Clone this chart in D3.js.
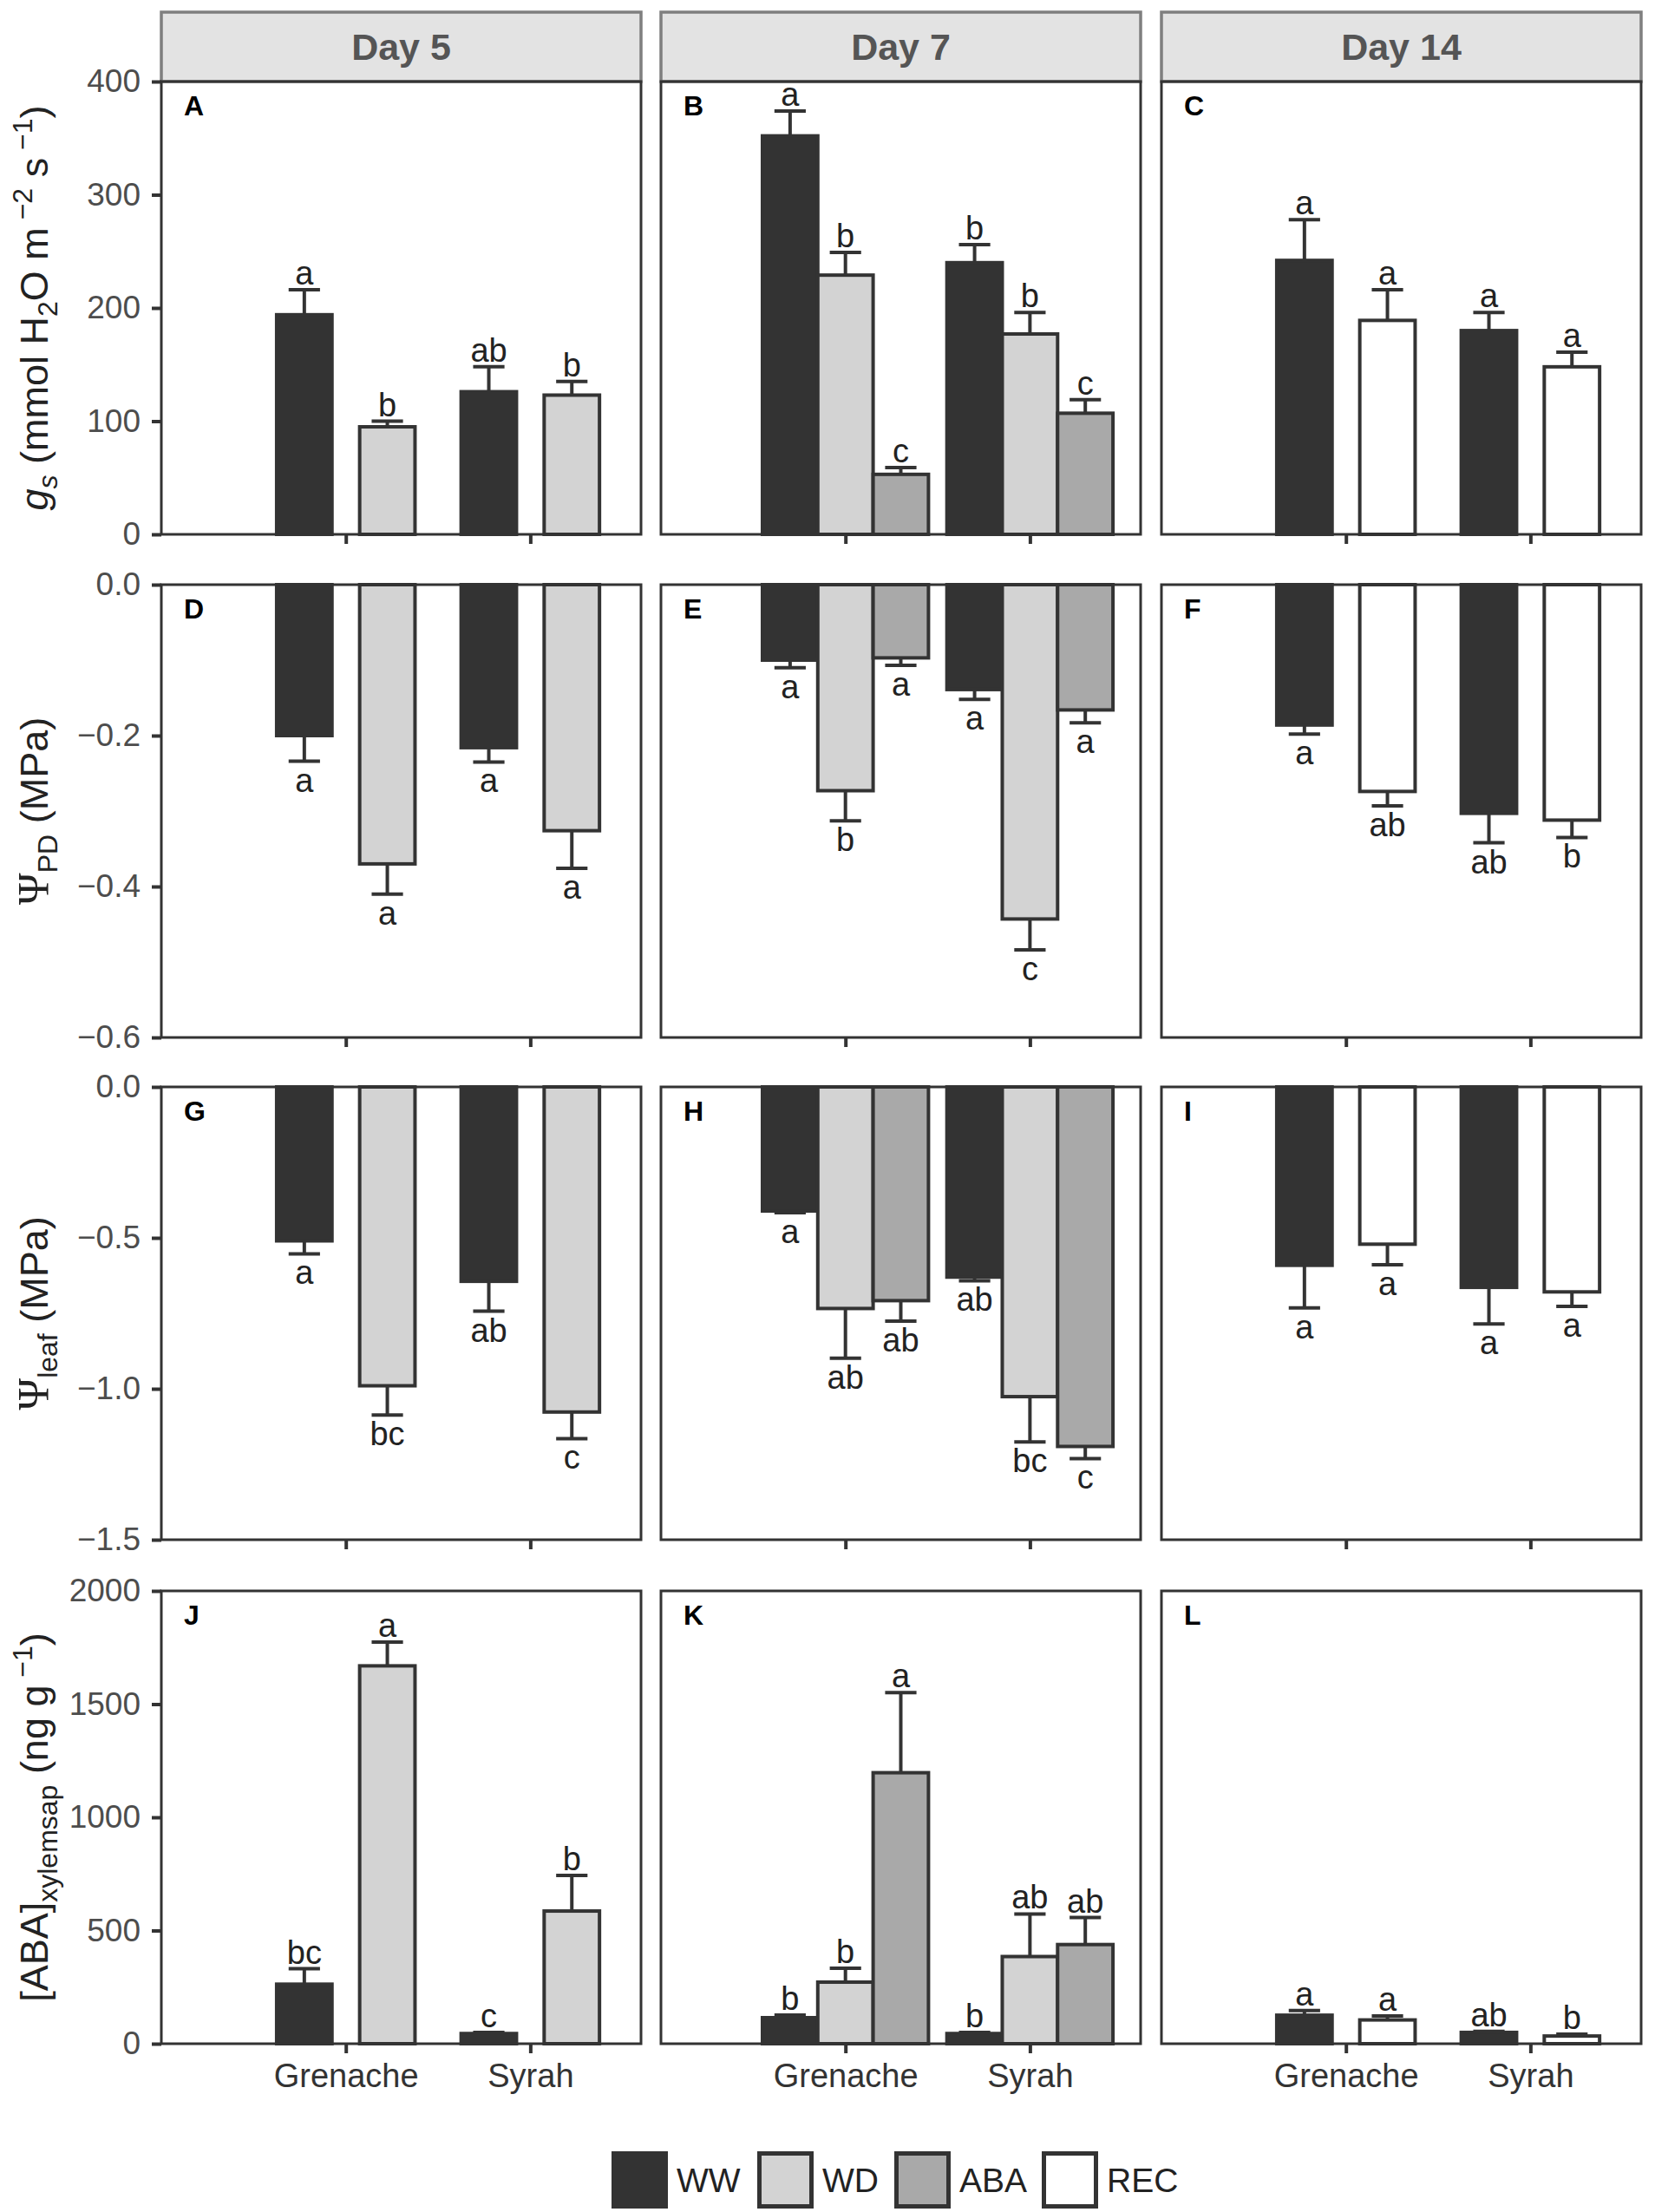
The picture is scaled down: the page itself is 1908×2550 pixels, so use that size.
<!DOCTYPE html>
<html><head><meta charset="utf-8">
<script src="https://cdn.jsdelivr.net/npm/d3@7"></script>
<style>body{margin:0;background:#fff} svg{display:block}</style>
</head><body>
<script>
// ---------- DATA ----------
const days = ["Day 5", "Day 7", "Day 14"];
const cultivars = ["Grenache", "Syrah"];
const treatDay5 = ["WW", "WD"];
const treatDay7 = ["WW", "WD", "ABA"];
const treatDay14 = ["WW", "REC"];
const legendItems = ["WW", "WD", "ABA", "REC"];
const panelLetters = ["A","B","C","D","E","F","G","H","I","J","K","L"];

// values ordered Grenache(treatments...), Syrah(treatments...)
const gsDay5 = [194, 95, 126, 123];
const gsDay5Err = [22, 5, 22, 12];
const gsDay5Sig = ["a", "b", "ab", "b"];
const gsDay7 = [352, 229, 53, 240, 177, 107];
const gsDay7Err = [22, 20, 6, 16, 19, 12];
const gsDay7Sig = ["a", "b", "c", "b", "b", "c"];
const gsDay14 = [242, 189, 180, 148];
const gsDay14Err = [36, 27, 16, 13];
const gsDay14Sig = ["a", "a", "a", "a"];

const pdDay5 = [-0.200, -0.370, -0.216, -0.326];
const pdDay5Err = [0.034, 0.040, 0.019, 0.050];
const pdDay5Sig = ["a", "a", "a", "a"];
const pdDay7 = [-0.100, -0.273, -0.097, -0.139, -0.443, -0.166];
const pdDay7Err = [0.010, 0.040, 0.010, 0.013, 0.041, 0.017];
const pdDay7Sig = ["a", "b", "a", "a", "c", "a"];
const pdDay14 = [-0.186, -0.274, -0.303, -0.312];
const pdDay14Err = [0.012, 0.019, 0.039, 0.023];
const pdDay14Sig = ["a", "ab", "ab", "b"];

const leafDay5 = [-0.510, -0.990, -0.644, -1.077];
const leafDay5Err = [0.043, 0.097, 0.099, 0.088];
const leafDay5Sig = ["a", "bc", "ab", "c"];
const leafDay7 = [-0.411, -0.734, -0.708, -0.630, -1.026, -1.191];
const leafDay7Err = [0.006, 0.165, 0.068, 0.012, 0.150, 0.040];
const leafDay7Sig = ["a", "ab", "ab", "ab", "bc", "c"];
const leafDay14 = [-0.591, -0.521, -0.664, -0.679];
const leafDay14Err = [0.141, 0.068, 0.121, 0.048];
const leafDay14Sig = ["a", "a", "a", "a"];

const abaDay5 = [263, 1669, 45, 586];
const abaDay5Err = [68, 105, 5, 157];
const abaDay5Sig = ["bc", "a", "c", "b"];
const abaDay7 = [115, 272, 1197, 45, 385, 438];
const abaDay7Err = [11, 61, 354, 5, 188, 119];
const abaDay7Sig = ["b", "b", "a", "b", "ab", "ab"];
const abaDay14 = [126, 105, 50, 34];
const abaDay14Err = [21, 18, 5, 8];
const abaDay14Sig = ["a", "a", "ab", "b"];

const gsTicks = [0, 100, 200, 300, 400];
const pdTicks = [0, -0.2, -0.4, -0.6];
const leafTicks = [0, -0.5, -1.0, -1.5];
const abaTicks = [0, 500, 1000, 1500, 2000];

// ---------- LAYOUT / STYLE ----------
const W = 1908, H = 2550;
const colLeft = [186, 762, 1339], pw = 553;
const rowTop = [94, 674, 1253, 1834], ph = 522;
const FONT = "'Liberation Sans', Arial, Helvetica, sans-serif";
const fills = {WW: "#333333", WD: "#d3d3d3", ABA: "#a9a9a9", REC: "#ffffff"};
const INK = "#333333";

const treatByDay = [treatDay5, treatDay7, treatDay14];
const rows = [
  {domain: [0, 400], ticks: gsTicks, fmt: d3.format("d"),
   vals: [gsDay5, gsDay7, gsDay14], errs: [gsDay5Err, gsDay7Err, gsDay14Err], sigs: [gsDay5Sig, gsDay7Sig, gsDay14Sig]},
  {domain: [-0.6, 0], ticks: pdTicks, fmt: d3.format(".1f"),
   vals: [pdDay5, pdDay7, pdDay14], errs: [pdDay5Err, pdDay7Err, pdDay14Err], sigs: [pdDay5Sig, pdDay7Sig, pdDay14Sig]},
  {domain: [-1.5, 0], ticks: leafTicks, fmt: d3.format(".1f"),
   vals: [leafDay5, leafDay7, leafDay14], errs: [leafDay5Err, leafDay7Err, leafDay14Err], sigs: [leafDay5Sig, leafDay7Sig, leafDay14Sig]},
  {domain: [0, 2000], ticks: abaTicks, fmt: d3.format("d"),
   vals: [abaDay5, abaDay7, abaDay14], errs: [abaDay5Err, abaDay7Err, abaDay14Err], sigs: [abaDay5Sig, abaDay7Sig, abaDay14Sig]}
];

const svg = d3.select("body").append("svg").attr("width", W).attr("height", H)
  .style("font-family", FONT);
svg.append("rect").attr("width", W).attr("height", H).attr("fill", "#fff");

// strips
days.forEach((d, c) => {
  svg.append("rect").attr("x", colLeft[c]).attr("y", 14).attr("width", pw).attr("height", 80)
    .attr("fill", "#e3e3e3").attr("stroke", "#7f7f7f").attr("stroke-width", 3.5);
  svg.append("text").attr("x", colLeft[c] + pw / 2).attr("y", 69)
    .attr("text-anchor", "middle").attr("font-size", 43).attr("font-weight", "bold")
    .attr("fill", "#555").text(d);
});

rows.forEach((row, r) => {
  const T = rowTop[r];
  days.forEach((day, c) => {
    const L = colLeft[c];
    const x = d3.scaleLinear().domain([0, 2.6]).range([L, L + pw]);
    const y = d3.scaleLinear().domain(row.domain).range([T + ph, T]);
    const g = svg.append("g");
    const tr = treatByDay[c];
    const n = tr.length;
    const offs = n === 2 ? [-0.225, 0.225] : [-0.3, 0, 0.3];
    const bw = 0.3;
    const vals = row.vals[c], errs = row.errs[c], sigs = row.sigs[c];

    // x ticks
    const xa = d3.axisBottom(x).tickValues([1, 2]).tickSize(11).tickPadding(12)
      .tickFormat(i => r === 3 ? cultivars[i - 1] : "");
    const xg = g.append("g").attr("transform", `translate(0,${T + ph})`).call(xa);
    xg.select(".domain").remove();
    xg.selectAll("line").attr("stroke", INK).attr("stroke-width", 4);
    xg.selectAll("text").attr("font-size", 38).attr("fill", "#333").style("font-family", FONT);

    // y axis (left column only)
    if (c === 0) {
      const ya = d3.axisLeft(y).tickValues(row.ticks).tickFormat(row.fmt).tickSize(11).tickPadding(13);
      const yg = g.append("g").attr("transform", `translate(${L},0)`).call(ya);
      yg.select(".domain").remove();
      yg.selectAll("line").attr("stroke", INK).attr("stroke-width", 4);
      yg.selectAll("text").attr("font-size", 37).attr("fill", "#4d4d4d").style("font-family", FONT);
    }

    // bars, error bars, letters
    cultivars.forEach((cv, ci) => {
      tr.forEach((t, ti) => {
        const k = ci * n + ti;
        const v = vals[k], e = errs[k];
        const cx = ci + 1 + offs[ti];
        const end = v >= 0 ? v + e : v - e;
        // error bar
        g.append("line").attr("x1", x(cx)).attr("x2", x(cx))
          .attr("y1", y(v)).attr("y2", y(end)).attr("stroke", INK).attr("stroke-width", 4);
        g.append("line").attr("x1", x(cx - 0.085)).attr("x2", x(cx + 0.085))
          .attr("y1", y(end)).attr("y2", y(end)).attr("stroke", INK).attr("stroke-width", 4);
        // bar
        g.append("rect").attr("x", x(cx - bw / 2)).attr("width", x(bw) - x(0))
          .attr("y", Math.min(y(0), y(v))).attr("height", Math.abs(y(v) - y(0)))
          .attr("fill", fills[t]).attr("stroke", INK).attr("stroke-width", 4);
        // significance letter
        g.append("text").attr("x", x(cx))
          .attr("y", v >= 0 ? y(end) - 6 : y(end) + 35)
          .attr("text-anchor", "middle").attr("font-size", 38).attr("fill", "#222")
          .text(sigs[k]);
      });
    });

    // panel border
    g.append("rect").attr("x", L).attr("y", T).attr("width", pw).attr("height", ph)
      .attr("fill", "none").attr("stroke", INK).attr("stroke-width", 3);
    // panel letter
    g.append("text").attr("x", L + 26).attr("y", T + 39).attr("font-size", 32)
      .attr("font-weight", "bold").attr("fill", "#000").text(panelLetters[r * 3 + c]);
  });
});

// axis titles
function richTitle(cy, parts) {
  const t = svg.append("text").attr("transform", `translate(55,${cy}) rotate(-90)`)
    .attr("text-anchor", "middle").attr("font-size", 45).attr("fill", "#222");
  let cur = 0;
  parts.forEach(p => {
    const shift = p.sub ? 11 : p.sup ? -18 : 0;
    const ts = t.append("tspan").attr("dy", shift - cur).text(p.t);
    cur = shift;
    if (p.sub || p.sup) ts.attr("font-size", 32);
    if (p.it) ts.attr("font-style", "italic");
    if (p.serif) ts.style("font-family", "'Liberation Serif', 'DejaVu Serif', serif").attr("font-size", 50);
  });
}
richTitle(rowTop[0] + ph / 2, [
  {t: "g", it: true}, {t: "s", it: true, sub: true}, {t: " (mmol H"}, {t: "2", sub: true},
  {t: "O m"}, {t: " \u22122", sup: true}, {t: " s"}, {t: " \u22121", sup: true}, {t: ")"}
]);
richTitle(rowTop[1] + ph / 2, [
  {t: "\u03A8", serif: true}, {t: "PD", sub: true}, {t: " (MPa)"}
]);
richTitle(rowTop[2] + ph / 2, [
  {t: "\u03A8", serif: true}, {t: "leaf", sub: true}, {t: " (MPa)"}
]);
richTitle(rowTop[3] + ph / 2, [
  {t: "[ABA]"}, {t: "xylemsap", sub: true}, {t: " (ng g"}, {t: " \u22121", sup: true}, {t: ")"}
]);

// legend
const legX = [705, 873, 1031, 1201];
const lg = svg.append("g");
legendItems.forEach((it, i) => {
  lg.append("rect").attr("x", legX[i] + 2.5).attr("y", 2482.5).attr("width", 60).attr("height", 61)
    .attr("fill", fills[it]).attr("stroke", INK).attr("stroke-width", 5);
  lg.append("text").attr("x", legX[i] + 75).attr("y", 2527).attr("font-size", 39)
    .attr("fill", "#222").text(it);
});
</script>
</body></html>
